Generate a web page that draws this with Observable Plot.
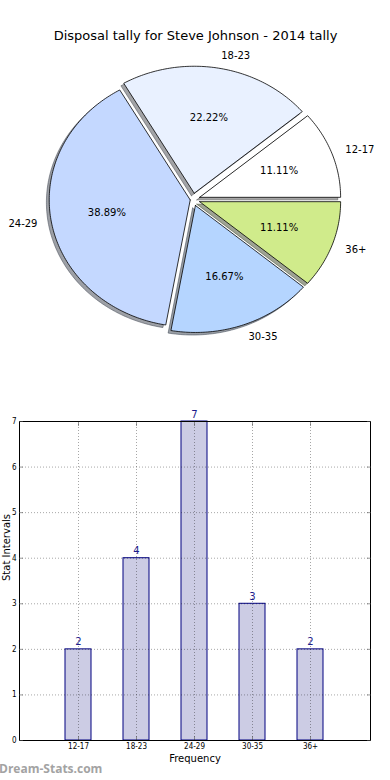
<!DOCTYPE html>
<html><head><meta charset="utf-8">
<script src="https://cdn.jsdelivr.net/npm/d3@7"></script>
<script src="https://cdn.jsdelivr.net/npm/@observablehq/plot@0.6"></script>
<style>
body{margin:0;background:#fff;}
#wrap{position:relative;width:390px;height:780px;overflow:hidden;font-family:"DejaVu Sans",sans-serif;}
#pie{position:absolute;left:0;top:0;}
#bar{position:absolute;left:0;top:400px;}
#wm{position:absolute;left:-1px;top:761px;font:bold 12px "Open Sans",sans-serif;color:#a3a3a3;line-height:16px;}
svg{overflow:visible;}
</style></head><body><div id="wrap"><div id="pie"></div><div id="bar"></div><div id="wm">Dream-Stats.com</div></div>
<script>
const title = "Disposal tally for Steve Johnson - 2014 tally";
const categories = ["12-17", "18-23", "24-29", "30-35", "36+"];
const counts = [2, 4, 7, 3, 2];
const sliceColors = ["#ffffff", "#e9f1ff", "#c4d8ff", "#b5d5ff", "#d0eb8b"];
const explode = [0.05, 0.05, 0.02, 0.05, 0.05];
const yTicks = [0, 1, 2, 3, 4, 5, 6, 7];
const xLabel = "Frequency";
const yLabel = "Stat Intervals";

// ---------- pie ----------
const total = d3.sum(counts);
const rad = Math.PI / 180;
let acc = 0;
const slices = categories.map((c, i) => {
  const a0 = acc / total * 360;
  acc += counts[i];
  const a1 = acc / total * 360;
  const mid = (a0 + a1) / 2;
  const ox = explode[i] * Math.cos(mid * rad), oy = explode[i] * Math.sin(mid * rad);
  const pts = [{x: ox, y: oy}];
  const n = Math.max(2, Math.ceil(a1 - a0));
  for (let k = 0; k <= n; k++) {
    const a = (a0 + (a1 - a0) * k / n) * rad;
    pts.push({x: ox + Math.cos(a), y: oy + Math.sin(a)});
  }
  pts.push({x: ox, y: oy});
  const pct = (100 * counts[i] / total).toFixed(2) + "%";
  return {cat: c, color: sliceColors[i], pts, ox, oy, mid, pct};
});
const shadowOf = col => { const c = d3.rgb(col); return d3.rgb(c.r * 0.3, c.g * 0.3, c.b * 0.3).formatHex(); };

const labels = slices.map(s => ({
  x: s.ox + 1.1 * Math.cos(s.mid * rad), y: s.oy + 1.1 * Math.sin(s.mid * rad),
  text: s.cat, right: s.ox + 1.1 * Math.cos(s.mid * rad) > 0
}));
const pcts = slices.map(s => ({
  x: s.ox + 0.6 * Math.cos(s.mid * rad), y: s.oy + 0.6 * Math.sin(s.mid * rad), text: s.pct
}));

const cx = 192.5, cy = 199, rx = 141, ry = 127;
const pieMarks = [];
slices.forEach(s => {
  const sc = shadowOf(s.color);
  pieMarks.push(Plot.line(s.pts.map(p => ({x: p.x - 0.02, y: p.y - 0.02})), {
    x: "x", y: "y", fill: sc, fillOpacity: 0.5, stroke: sc, strokeOpacity: 0.5, strokeWidth: 1
  }));
});
slices.forEach(s => {
  pieMarks.push(Plot.line(s.pts, {x: "x", y: "y", fill: s.color, stroke: "#000", strokeWidth: 0.8, strokeLinejoin: "miter"}));
});
pieMarks.push(Plot.text(labels.filter(d => d.right), {x: "x", y: "y", text: "text", textAnchor: "start", fontSize: 10, fill: "#000"}));
pieMarks.push(Plot.text(labels.filter(d => !d.right), {x: "x", y: "y", text: "text", textAnchor: "end", fontSize: 10, fill: "#000"}));
pieMarks.push(Plot.text(pcts, {x: "x", y: "y", text: "text", fontSize: 10, fill: "#000"}));
pieMarks.push(Plot.text([title], {frameAnchor: "top", dy: 30, fontSize: 13, fill: "#000"}));

const pie = Plot.plot({
  width: 390, height: 390, margin: 0,
  style: {fontFamily: "DejaVu Sans, sans-serif", background: "transparent"},
  x: {domain: [-1, 1], range: [cx - rx, cx + rx], axis: null},
  y: {domain: [-1, 1], range: [cy + ry, cy - ry], axis: null},
  marks: pieMarks
});
document.getElementById("pie").appendChild(pie);

// ---------- bar ----------
const barData = categories.map((c, i) => ({cat: c, count: counts[i]}));
const tickFont = "Liberation Sans Narrow, DejaVu Sans Condensed, Liberation Sans, sans-serif";
const gridStyle = {stroke: "#000", strokeOpacity: 0.35, strokeWidth: 1, strokeDasharray: "1,2"};
const bar = Plot.plot({
  width: 390, height: 380,
  marginTop: 21, marginBottom: 40, marginLeft: 19, marginRight: 20,
  style: {fontFamily: "DejaVu Sans, sans-serif", background: "transparent"},
  x: {type: "band", domain: categories, paddingInner: 0.55, paddingOuter: 0.775, axis: null},
  y: {domain: [0, 7], axis: null},
  marks: [
    Plot.barY(barData, {x: "cat", y: "count", fill: "#ccccE4", stroke: "#000080", strokeWidth: 1}),
    Plot.gridY(yTicks, gridStyle),
    Plot.gridX(categories, gridStyle),
    Plot.frame({stroke: "#000", strokeWidth: 1}),
    Plot.axisY(yTicks, {anchor: "left", tickSize: 4, dx: 4, tickFormat: () => "", label: null, stroke: "#555", strokeWidth: 0.6}),
    Plot.axisY(yTicks, {anchor: "right", tickSize: 4, dx: -4, tickFormat: () => "", label: null, stroke: "#555", strokeWidth: 0.6}),
    Plot.axisX(categories, {anchor: "bottom", tickSize: 4, dy: -4, tickFormat: () => "", label: null, stroke: "#555", strokeWidth: 0.6}),
    Plot.axisX(categories, {anchor: "top", tickSize: 4, dy: 4, tickFormat: () => "", label: null, stroke: "#555", strokeWidth: 0.6}),
    Plot.axisY(yTicks, {anchor: "left", tickSize: 0, tickPadding: 3, label: null, fontSize: 8, fontFamily: tickFont, fill: "#000"}),
    Plot.axisX(categories, {anchor: "bottom", tickSize: 0, tickPadding: 3, label: null, fontSize: 8, fontFamily: tickFont, fill: "#000"}),
    Plot.text(barData, {x: "cat", y: "count", text: d => String(d.count), lineAnchor: "bottom", dy: -4, fontSize: 10, fill: "#1c1c8c"}),
    Plot.text([xLabel], {frameAnchor: "bottom", dy: 21, fontSize: 10, fill: "#000"}),
    Plot.text([yLabel], {frameAnchor: "left", dx: -13, rotate: -90, fontSize: 10, fill: "#000"})
  ]
});
document.getElementById("bar").appendChild(bar);
</script></body></html>
